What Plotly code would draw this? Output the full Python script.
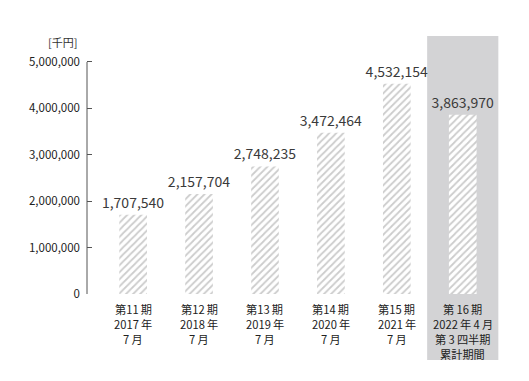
import plotly.graph_objects as go

T = "\u2009"
categories = [
    ["第11" + T + "期", "2017" + T + "年", "7" + T + "月"],
    ["第12" + T + "期", "2018" + T + "年", "7" + T + "月"],
    ["第13" + T + "期", "2019" + T + "年", "7" + T + "月"],
    ["第14" + T + "期", "2020" + T + "年", "7" + T + "月"],
    ["第15" + T + "期", "2021" + T + "年", "7" + T + "月"],
    ["第" + T + "16" + T + "期", "2022" + T + "年" + T + "4" + T + "月", "第" + T + "3" + T + "四半期", "累計期間"],
]
values = [1707540, 2157704, 2748235, 3472464, 4532154, 3863970]
tick_vals = [0, 1000000, 2000000, 3000000, 4000000, 5000000]
tick_text = ["0", "1,000,000", "2,000,000", "3,000,000", "4,000,000", "5,000,000"]
unit_label = "[千円]"

FONT = "Noto Sans CJK JP, Noto Sans, sans-serif"
xs = list(range(len(categories)))

fig = go.Figure(go.Bar(
    x=xs, y=values, width=0.42,
    marker=dict(color="white", line=dict(width=0),
                pattern=dict(shape="/", fgcolor="#999999", bgcolor="white", size=5, solidity=0.35)),
    text=[f"{v:,}" for v in values], textposition="outside", cliponaxis=False,
    constraintext="none",
    textfont=dict(size=14, color="#3a3a3a", family=FONT),
))

# highlight background for last category
fig.add_shape(type="rect", xref="x", yref="paper", x0=xs[-1] - 0.54, x1=xs[-1] + 0.54,
              y0=-0.256, y1=1.0, fillcolor="#d3d3d5", line=dict(width=0), layer="below")
# y axis line from 0 to top tick
fig.add_shape(type="line", xref="paper", yref="y", x0=0, x1=0, y0=0, y1=tick_vals[-1],
              line=dict(color="#555", width=1))

fig.add_annotation(text=unit_label, xref="paper", yref="paper", x=-0.02, y=1.0, yshift=-6,
                   xanchor="right", yanchor="middle", showarrow=False,
                   font=dict(size=11, color="#333", family=FONT))

# category labels, line by line
for i, lines in enumerate(categories):
    for j, line in enumerate(lines):
        fig.add_annotation(text=line, x=xs[i], xref="x", yref="paper", y=0,
                           yshift=-(15 + 15 * j), xanchor="center", yanchor="middle",
                           showarrow=False, font=dict(size=11.2, color="#222", family=FONT))

fig.update_layout(
    width=529, height=381, margin=dict(l=79, r=38, t=28, b=95),
    plot_bgcolor="white", paper_bgcolor="white", showlegend=False,
    font=dict(family=FONT, color="#333"),
    xaxis=dict(range=[-0.7, 5.55], tickmode="array", tickvals=xs, ticktext=[""] * len(xs),
               showgrid=False, zeroline=False, showline=False, ticks="", automargin=False),
    yaxis=dict(range=[0, 5560000], tickmode="array", tickvals=tick_vals, ticktext=tick_text,
               showgrid=False, zeroline=False, showline=False, ticks="inside", ticklen=5,
               tickcolor="#555", tickwidth=1, ticklabelstandoff=6, automargin=False,
               tickfont=dict(size=11.5, color="#222", family=FONT)),
)

fig.write_html("out.html")
